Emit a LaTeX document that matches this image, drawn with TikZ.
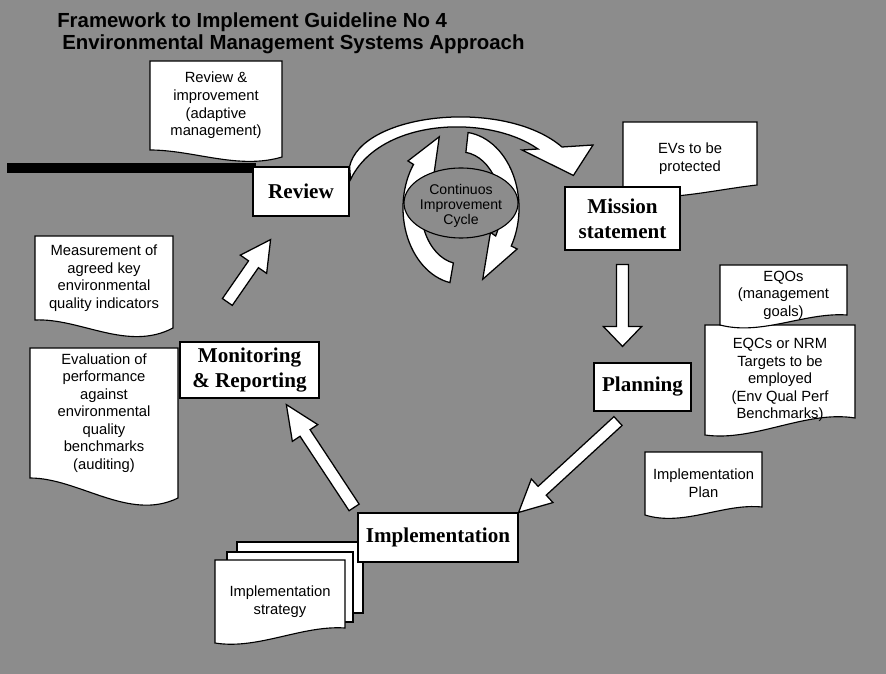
\documentclass[tikz,border=0pt]{standalone}
\usepackage{fontspec}
\setmainfont{Liberation Serif}
\setsansfont{Liberation Sans}
\usetikzlibrary{calc,positioning}

\definecolor{bg}{gray}{0.55}

% document shape with a wavy bottom: name, x1, top, x2, bottom left, bottom right, two control heights, text
\newcommand{\wavedoc}[9]{%
  \draw[docline] (#2,-#3) -- (#4,-#3) -- (#4,-#6)
    .. controls ({#2+0.67*(#4-#2)},-#8) and ({#2+0.33*(#4-#2)},-#7) .. (#2,-#5) -- cycle;
  \node[doctext] (#1) at ({(#2+#4)/2},{-(#3+#5)/2}) {#9};
}

% hollow block arrow: tail, tip, tail gap, tip gap, head length, head half width
\newcommand{\blockarrow}[6]{%
  \coordinate (ba-t) at ($(#1)!#3!(#2)$);
  \coordinate (ba-p) at ($(#2)!#4!(#1)$);
  \coordinate (ba-b) at ($(ba-p)!#5!(ba-t)$);
  \draw[hollow] ($(ba-t)!0.15cm!90:(ba-p)$) -- ($(ba-b)!0.15cm!90:(ba-p)$)
    -- ($(ba-b)!#6!90:(ba-p)$) -- (ba-p)
    -- ($(ba-b)!#6!-90:(ba-p)$) -- ($(ba-b)!0.15cm!-90:(ba-p)$)
    -- ($(ba-t)!0.15cm!-90:(ba-p)$) -- cycle;
}

\begin{document}
\begin{tikzpicture}[x=0.025cm, y=0.025cm,
    stage/.style={draw, fill=white, line width=0.8pt, align=center, inner sep=0pt,
        font=\bfseries\fontsize{15}{18}\selectfont},
    docline/.style={draw, fill=white, line width=0.8pt},
    doctext/.style={align=center, inner sep=0pt, font=\sffamily\fontsize{10.5}{12.5}\selectfont},
    cyctext/.style={align=center, inner sep=0pt, font=\sffamily\fontsize{10}{10.5}\selectfont},
    hollow/.style={draw, fill=white, line width=0.9pt, line join=miter},
    heading/.style={anchor=base west, inner sep=0pt, font=\sffamily\bfseries\fontsize{14.5}{17}\selectfont}]

    % Backdrop
    \fill[bg] (0,0) rectangle (886,-674);
    \useasboundingbox (0,0) rectangle (886,-674);

    % Title
    \node[heading] (title1) at (57,-28) {Framework to Implement Guideline No 4};
    \node[heading] (title2) at (62,-50) {Environmental Management Systems Approach};

    % Black bar
    \fill (7,-163) rectangle (256,-173);

    % Documents
    \wavedoc{revdoc}{150}{61}{282}{150}{157}{150}{170}{Review \&\\improvement\\(adaptive\\management)}
    \wavedoc{evsdoc}{623}{122}{757}{195}{185}{202}{190}{EVs to be\\protected}
    \wavedoc{measdoc}{35}{236}{173}{320}{328}{318}{352}{Measurement of\\agreed key\\environmental\\quality indicators}
    \wavedoc{evaldoc}{30}{348}{178}{478}{498}{478}{522}{Evaluation of\\performance\\against\\environmental\\quality\\benchmarks\\(auditing)}
    \wavedoc{eqcsdoc}{705}{325}{855}{435}{418}{442}{410}{EQCs or NRM\\Targets to be\\employed\\(Env Qual Perf\\Benchmarks)}
    \wavedoc{eqosdoc}{720}{265}{847}{325}{315}{336}{312}{EQOs\\(management\\goals)}
    \wavedoc{plandoc}{645}{452}{762}{515}{507}{527}{503}{Implementation\\Plan}
    \draw[docline] (237,-542) rectangle (363,-613);
    \draw[docline] (227,-552) rectangle (353,-622);
    \wavedoc{stratdoc}{215}{560}{345}{643}{628}{650}{625}{Implementation\\strategy}

    % Stages
    \node[stage, minimum width=2.4cm, minimum height=1.225cm] (review) at (301,-191.5) {Review};
    \node[stage, minimum width=2.875cm, minimum height=1.575cm] (mission) at (622.5,-218.5) {Mission\\statement};
    \node[stage, minimum width=2.425cm, minimum height=1.2cm] (planning) at (642.5,-387) {Planning};
    \node[stage, minimum width=4cm, minimum height=1.225cm] (implementation) at (438,-537.5) {Implementation};
    \node[stage, minimum width=3.475cm, minimum height=1.4cm] (monitoring) at (249.5,-370) {Monitoring\\\& Reporting};

    % Review to mission
    \draw[hollow] (review.north east) .. controls (362,-112) and (505,-98) .. (562,-147)
        -- (593,-145) -- ($(mission.north west)+(9,11)$) -- (522,-150) -- (538,-149)
        .. controls (488,-114) and (380,-118) .. ($(review.north east)+(1,-13)$) -- cycle;

    % Continuous improvement cycle
    \coordinate (cyc) at (461,-208);
    \draw[hollow] ($(cyc)+(259:1.45cm and 1.9cm)$) arc[start angle=259, end angle=145, x radius=1.45cm, y radius=1.9cm]
        -- ($(cyc)+(145:1.62cm and 2.05cm)$) -- ($(cyc)+(112:1.45cm and 1.92cm)$)
        -- ($(cyc)+(145:0.85cm and 1.22cm)$) -- ($(cyc)+(145:1cm and 1.4cm)$)
        arc[start angle=145, end angle=259, x radius=1cm, y radius=1.4cm] -- cycle;
    \draw[hollow] ($(cyc)+(83:1.45cm and 1.9cm)$) arc[start angle=83, end angle=-30, x radius=1.45cm, y radius=1.9cm]
        -- ($(cyc)+(-30:1.62cm and 2.05cm)$) -- ($(cyc)+(-68:1.45cm and 1.92cm)$)
        -- ($(cyc)+(-30:0.85cm and 1.22cm)$) -- ($(cyc)+(-30:1cm and 1.4cm)$)
        arc[start angle=-30, end angle=83, x radius=1cm, y radius=1.4cm] -- cycle;
    \draw[fill=bg, line width=0.8pt] (461,-203) ellipse [x radius=1.425cm, y radius=0.875cm];
    \node[cyctext] (cip) at (461,-206) {Continuos\\Improvement\\Cycle};

    % Flow arrows
    \blockarrow{mission.south}{mission.south |- planning.north}{0.35cm}{0.4cm}{0.5cm}{0.48cm}
    \blockarrow{planning.240}{implementation.north east}{0.35cm}{0cm}{0.8cm}{0.4cm}
    \blockarrow{implementation.north west}{monitoring.-41}{0.15cm}{0.18cm}{0.85cm}{0.38cm}
    \blockarrow{monitoring.150}{review.-120}{1.2cm}{0.7cm}{0.75cm}{0.4cm}

\end{tikzpicture}
\end{document}
